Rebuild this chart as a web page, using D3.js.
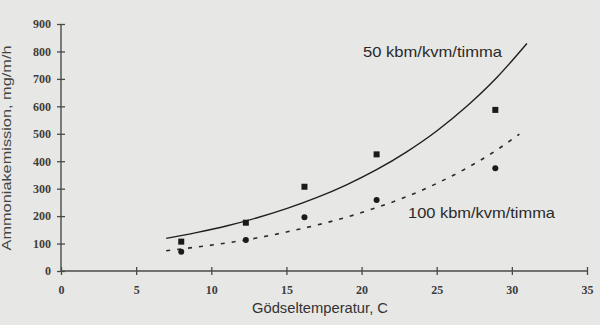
<!DOCTYPE html>
<html><head><meta charset="utf-8">
<script src="https://cdn.jsdelivr.net/npm/d3@7"></script>
<style>html,body{margin:0;padding:0;background:#e7e7e5;}svg{display:block;}</style>
</head><body><svg id="c" width="600" height="325"></svg>
<script>
const xTicks = [0,5,10,15,20,25,30,35];
const yTicks = [0,100,200,300,400,500,600,700,800,900];
// measured points, 50 kbm/kvm/timma (squares)
const tempSq = [8.0, 12.3, 16.2, 21.0, 28.9];
const emisSq = [107, 176, 307, 425, 587];
// measured points, 100 kbm/kvm/timma (circles)
const tempCi = [8.0, 12.3, 16.2, 21.0, 28.9];
const emisCi = [70, 113, 196, 259, 374];
// trend curve 50
const trendX50 = [7, 9, 11, 13, 15, 17, 19, 21, 23, 25, 27, 29, 31];
const trendY50 = [119, 140, 164, 193, 227, 267, 314, 369, 434, 510, 600, 705, 829];
// trend curve 100
const trendX100 = [7, 9, 11, 13, 15, 17, 19, 21, 23, 25, 27, 29, 30.5];
const trendY100 = [74, 87, 102, 120, 142, 167, 196, 231, 271, 319, 375, 441, 499];
const xTitle = "Gödseltemperatur, C";
const yTitle = "Ammoniakemission, mg/m/h";
const label50 = "50 kbm/kvm/timma";
const label100 = "100 kbm/kvm/timma";

const svg = d3.select("#c");
svg.append("rect").attr("width",600).attr("height",325).attr("fill","#e7e7e5");
const x = d3.scaleLinear().domain([0,35]).range([61,587]);
const y = d3.scaleLinear().domain([0,900]).range([271,24]);
const axisCol = "#4a4a4a";

// y axis
const ya = svg.append("g").attr("transform","translate(61,0)")
  .call(d3.axisLeft(y).tickValues(yTicks).tickSize(4).tickPadding(6));
ya.select(".domain").attr("stroke",axisCol).attr("stroke-width",1.4).attr("d","M0,24V271");
ya.selectAll(".tick line").attr("stroke",axisCol).attr("stroke-width",1.3).attr("x1",4).attr("x2",-4);
ya.selectAll(".tick text").attr("font-family","Liberation Serif").attr("font-size",12)
  .attr("font-weight","bold").attr("fill","#3d3d3d").attr("x",-10);

// x axis
const xa = svg.append("g").attr("transform","translate(0,271)")
  .call(d3.axisBottom(x).tickValues(xTicks).tickSize(4).tickPadding(10));
xa.select(".domain").attr("stroke",axisCol).attr("stroke-width",1.4).attr("d","M61,0H587");
xa.selectAll(".tick line").attr("stroke",axisCol).attr("stroke-width",1.3).attr("y1",-4).attr("y2",4);
xa.selectAll(".tick text").attr("font-family","Liberation Serif").attr("font-size",12)
  .attr("font-weight","bold").attr("fill","#3d3d3d");

// titles
svg.append("text").attr("x",320).attr("y",313).attr("text-anchor","middle")
  .attr("font-family","Liberation Sans").attr("font-size",14.5).attr("fill","#333")
  .attr("textLength",136).attr("lengthAdjust","spacingAndGlyphs").text(xTitle);
svg.append("text").attr("transform","translate(11,148) rotate(-90)").attr("text-anchor","middle")
  .attr("font-family","Liberation Sans").attr("font-size",13).attr("fill","#444")
  .attr("textLength",205).attr("lengthAdjust","spacingAndGlyphs").text(yTitle);

// curves
const line = d3.line().x(d=>x(d[0])).y(d=>y(d[1])).curve(d3.curveMonotoneX);
svg.append("path").datum(d3.zip(trendX50,trendY50)).attr("d",line)
  .attr("fill","none").attr("stroke","#1e1e1e").attr("stroke-width",1.4);
svg.append("path").datum(d3.zip(trendX100,trendY100)).attr("d",line)
  .attr("fill","none").attr("stroke","#2a2a2a").attr("stroke-width",1.6).attr("stroke-dasharray","4,7");

// markers
svg.selectAll("rect.sq").data(d3.zip(tempSq,emisSq)).enter().append("rect").attr("class","sq")
  .attr("x",d=>x(d[0])-3).attr("y",d=>y(d[1])-3).attr("width",6).attr("height",6).attr("fill","#1a1a1a");
svg.selectAll("circle.ci").data(d3.zip(tempCi,emisCi)).enter().append("circle").attr("class","ci")
  .attr("cx",d=>x(d[0])).attr("cy",d=>y(d[1])).attr("r",3).attr("fill","#1a1a1a");

// labels
svg.append("text").attr("x",363).attr("y",57).attr("font-family","Liberation Sans").attr("font-size",14.5)
  .attr("fill","#2a2a2a").attr("textLength",139).attr("lengthAdjust","spacingAndGlyphs").text(label50);
svg.append("text").attr("x",408).attr("y",218).attr("font-family","Liberation Sans").attr("font-size",14.5)
  .attr("fill","#2a2a2a").attr("textLength",147).attr("lengthAdjust","spacingAndGlyphs").text(label100);
</script></body></html>
